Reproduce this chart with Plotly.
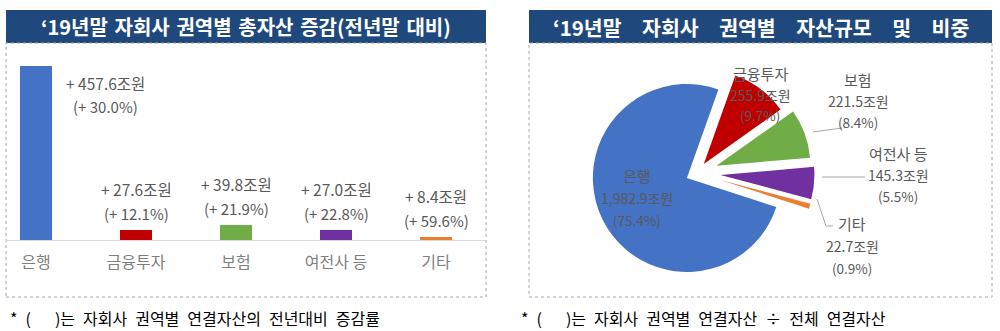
import plotly.graph_objects as go

# ---------------- data ----------------
categories = ["은행", "금융투자", "보험", "여전사 등", "기타"]
increase = [457.6, 27.6, 39.8, 27.0, 8.4]          # 전년말 대비 증감 (조원)
growth_pct = [30.0, 12.1, 21.9, 22.8, 59.6]        # 전년대비 증감률 (%)
assets = [1982.9, 255.9, 221.5, 145.3, 22.7]       # '19년말 자산규모 (조원)
share_pct = [75.4, 9.7, 8.4, 5.5, 0.9]             # 비중 (%)
colors = ["#4472C4", "#C00000", "#70AD47", "#7030A0", "#ED7D31"]

EN = "\u2002"   # en space (wider word spacing as in the original)
TS = "\u2004"   # three-per-em space
IS = "\u3000"   # ideographic space
title_left = f"<b>‘19년말{TS}자회사{TS}권역별{TS}총자산{TS}증감(전년말{TS}대비)</b>"
title_right = f"<b>‘19년말{EN}{EN}자회사{EN}{EN}권역별{EN}{EN}자산규모{EN}{EN}및{EN}{EN}비중</b>"
note_left = f"*{EN}({IS}{EN})는{EN}자회사{EN}권역별{EN}연결자산의{EN}전년대비{EN}증감률"
note_right = f"*{EN}({IS}{EN})는{EN}자회사{EN}권역별{EN}연결자산{EN}÷{EN}전체{EN}연결자산"

# ---------------- layout helpers ----------------
W, H = 1000, 331
FONT = "Noto Sans CJK KR, Noto Sans, sans-serif"


def px(x):
    return x / W


def py(y):
    return 1 - y / H


fig = go.Figure()

# bar chart
fig.add_trace(go.Bar(
    x=categories, y=increase, marker=dict(color=colors, line=dict(width=0)),
    width=0.32, xaxis="x", yaxis="y", hoverinfo="skip", showlegend=False,
))

# pie chart
pcx, pcy, half = 697, 173, 117.5
fig.add_trace(go.Pie(
    labels=categories, values=assets, sort=False, direction="clockwise",
    rotation=108, pull=[0.12, 0.12, 0.22, 0.25, 0.25],
    marker=dict(colors=colors, line=dict(width=0)),
    textinfo="none", hoverinfo="skip", showlegend=False,
    domain=dict(x=[px(pcx - half), px(pcx + half)], y=[py(pcy + half), py(pcy - half)]),
))

shapes = []
annotations = []

# title bars
for (x0, x1, t, fs) in [(6, 486, title_left, 20), (529, 992, title_right, 20.5)]:
    shapes.append(dict(type="rect", xref="paper", yref="paper", x0=px(x0), x1=px(x1),
                       y0=py(43), y1=py(10), fillcolor="#1F497D", line=dict(width=0), layer="below"))
    annotations.append(dict(xref="paper", yref="paper", x=px((x0 + x1) / 2), y=py(27), text=t,
                            showarrow=False, font=dict(family=FONT, size=fs, color="white"),
                            xanchor="center", yanchor="middle"))
    # dotted frames
    shapes.append(dict(type="rect", xref="paper", yref="paper", x0=px(x0), x1=px(x1),
                       y0=py(297), y1=py(43), line=dict(color="#A6A6A6", width=1, dash="dot"),
                       fillcolor="rgba(0,0,0,0)", layer="below"))

# footnotes
annotations.append(dict(xref="paper", yref="paper", x=px(8), y=py(318), text=note_left, showarrow=False,
                        font=dict(family=FONT, size=16, color="#000000"), xanchor="left", yanchor="middle"))
annotations.append(dict(xref="paper", yref="paper", x=px(519), y=py(318), text=note_right, showarrow=False,
                        font=dict(family=FONT, size=16, color="#000000"), xanchor="left", yanchor="middle"))

# bar labels
LABEL_GRAY = "#595959"
for i, (c, v, g) in enumerate(zip(categories, increase, growth_pct)):
    if i == 0:
        xs, s1, s2 = 69, -17, -41
    else:
        xs, s1, s2 = 0, 41, 16
    annotations.append(dict(x=c, y=v, xref="x", yref="y", text=f"+ {v:.1f}조원", showarrow=False,
                            xshift=xs, yshift=s1, font=dict(family=FONT, size=15.5, color=LABEL_GRAY),
                            xanchor="center", yanchor="middle"))
    annotations.append(dict(x=c, y=v, xref="x", yref="y", text=f"(+ {g:.1f}%)", showarrow=False,
                            xshift=xs, yshift=s2, font=dict(family=FONT, size=15, color=LABEL_GRAY),
                            xanchor="center", yanchor="middle"))

# pie labels (pixel centres of name / value / share lines)
pie_label_pos = [
    (637, 175, 198, 220),
    (760, 73, 95, 115),
    (858, 79, 101, 122),
    (898, 153, 175, 196),
    (852, 223, 246, 268),
]
for c, v, s, (lx, y1, y2, y3) in zip(categories, assets, share_pct, pie_label_pos):
    for txt, yy, fs in [(c, y1, 15), (f"{v:,.1f}조원", y2, 14), (f"({s:.1f}%)", y3, 13.5)]:
        annotations.append(dict(xref="paper", yref="paper", x=px(lx), y=py(yy), text=txt,
                                showarrow=False, font=dict(family=FONT, size=fs, color=LABEL_GRAY),
                                xanchor="center", yanchor="middle"))

# pie leader lines
leaders = [
    [(813, 132), (842, 128)],
    [(822, 177), (865, 177)],
    [(817, 199), (826, 226), (833, 226)],
]
for pts in leaders:
    path = "M " + " L ".join(f"{px(x)},{py(y)}" for x, y in pts)
    shapes.append(dict(type="path", xref="paper", yref="paper", path=path,
                       line=dict(color="#A6A6A6", width=1)))

fig.update_layout(
    width=W, height=H, margin=dict(l=0, r=0, t=0, b=0),
    paper_bgcolor="white", plot_bgcolor="rgba(0,0,0,0)",
    font=dict(family=FONT),
    xaxis=dict(domain=[px(6), px(486)], type="category", range=[-0.3, 4.5],
               showline=True, linecolor="#D9D9D9", linewidth=1, showgrid=False, zeroline=False,
               ticks="outside", ticklen=8, tickcolor="rgba(0,0,0,0)",
               tickfont=dict(family=FONT, size=16, color="#7F7F7F"), fixedrange=True),
    yaxis=dict(domain=[py(240), py(43)], range=[0, 518], visible=False, fixedrange=True),
    shapes=shapes, annotations=annotations, bargap=0,
)

fig.write_html("out.html")
